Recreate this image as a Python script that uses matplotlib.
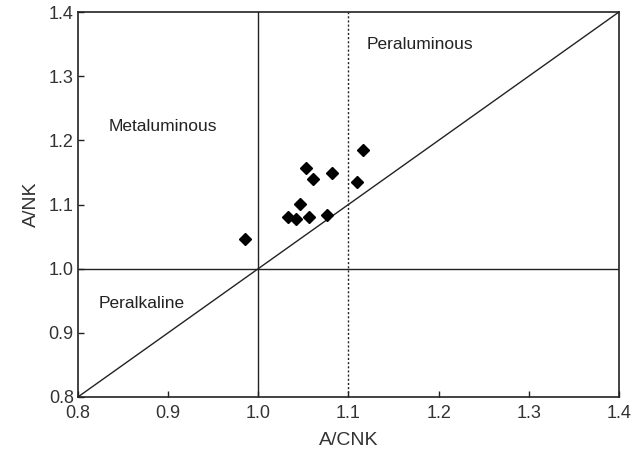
import matplotlib
matplotlib.use("Agg")
import matplotlib.pyplot as plt
import numpy as np

plt.rcParams['font.family'] = ['Liberation Sans', 'DejaVu Sans']

# sample compositions
acnk = [0.985, 1.033, 1.042, 1.046, 1.056, 1.076, 1.053, 1.061, 1.082, 1.109, 1.116]
ank = [1.046, 1.081, 1.077, 1.101, 1.081, 1.084, 1.157, 1.140, 1.149, 1.135, 1.185]

xticks = [0.8, 0.9, 1.0, 1.1, 1.2, 1.3, 1.4]
yticks = [0.8, 0.9, 1.0, 1.1, 1.2, 1.3, 1.4]

fig = plt.figure(figsize=(6.44, 4.55), dpi=100)
ax = fig.add_axes([0.121, 0.1275, 0.840, 0.846])

lc = '#222222'
ax.plot([0.8, 1.4], [0.8, 1.4], color=lc, lw=1.0)
ax.axvline(1.0, color=lc, lw=1.0)
ax.axhline(1.0, color=lc, lw=1.0)
ax.axvline(1.1, color=lc, lw=1.0, ls=(0, (1.5, 1.5)))

ax.plot(acnk, ank, ls='none', marker='D', ms=6.2, color='black', zorder=5)

ax.text(1.179, 1.349, 'Peraluminous', ha='center', va='center', fontsize=12.5, color='#222222')
ax.text(0.894, 1.221, 'Metaluminous', ha='center', va='center', fontsize=12.5, color='#222222')
ax.text(0.871, 0.945, 'Peralkaline', ha='center', va='center', fontsize=12.5, color='#222222')

ax.set_xlim(0.8, 1.4)
ax.set_ylim(0.8, 1.4)
ax.set_xticks(xticks)
ax.set_yticks(yticks)
ax.set_xticklabels([f'{v:.1f}' for v in xticks])
ax.set_yticklabels([f'{v:.1f}' for v in yticks])
ax.tick_params(direction='in', length=4, width=1, colors=lc, labelsize=13, labelcolor='#333333')
ax.tick_params(axis='x', pad=6)
ax.tick_params(axis='y', pad=3)
for s in ax.spines.values():
    s.set_color(lc)
    s.set_linewidth(1.2)

ax.set_xlabel('A/CNK', fontsize=14, color='#333333', labelpad=7)
ax.set_ylabel('A/NK', fontsize=14, color='#333333', labelpad=6)

fig.savefig('out.png', dpi=100)
